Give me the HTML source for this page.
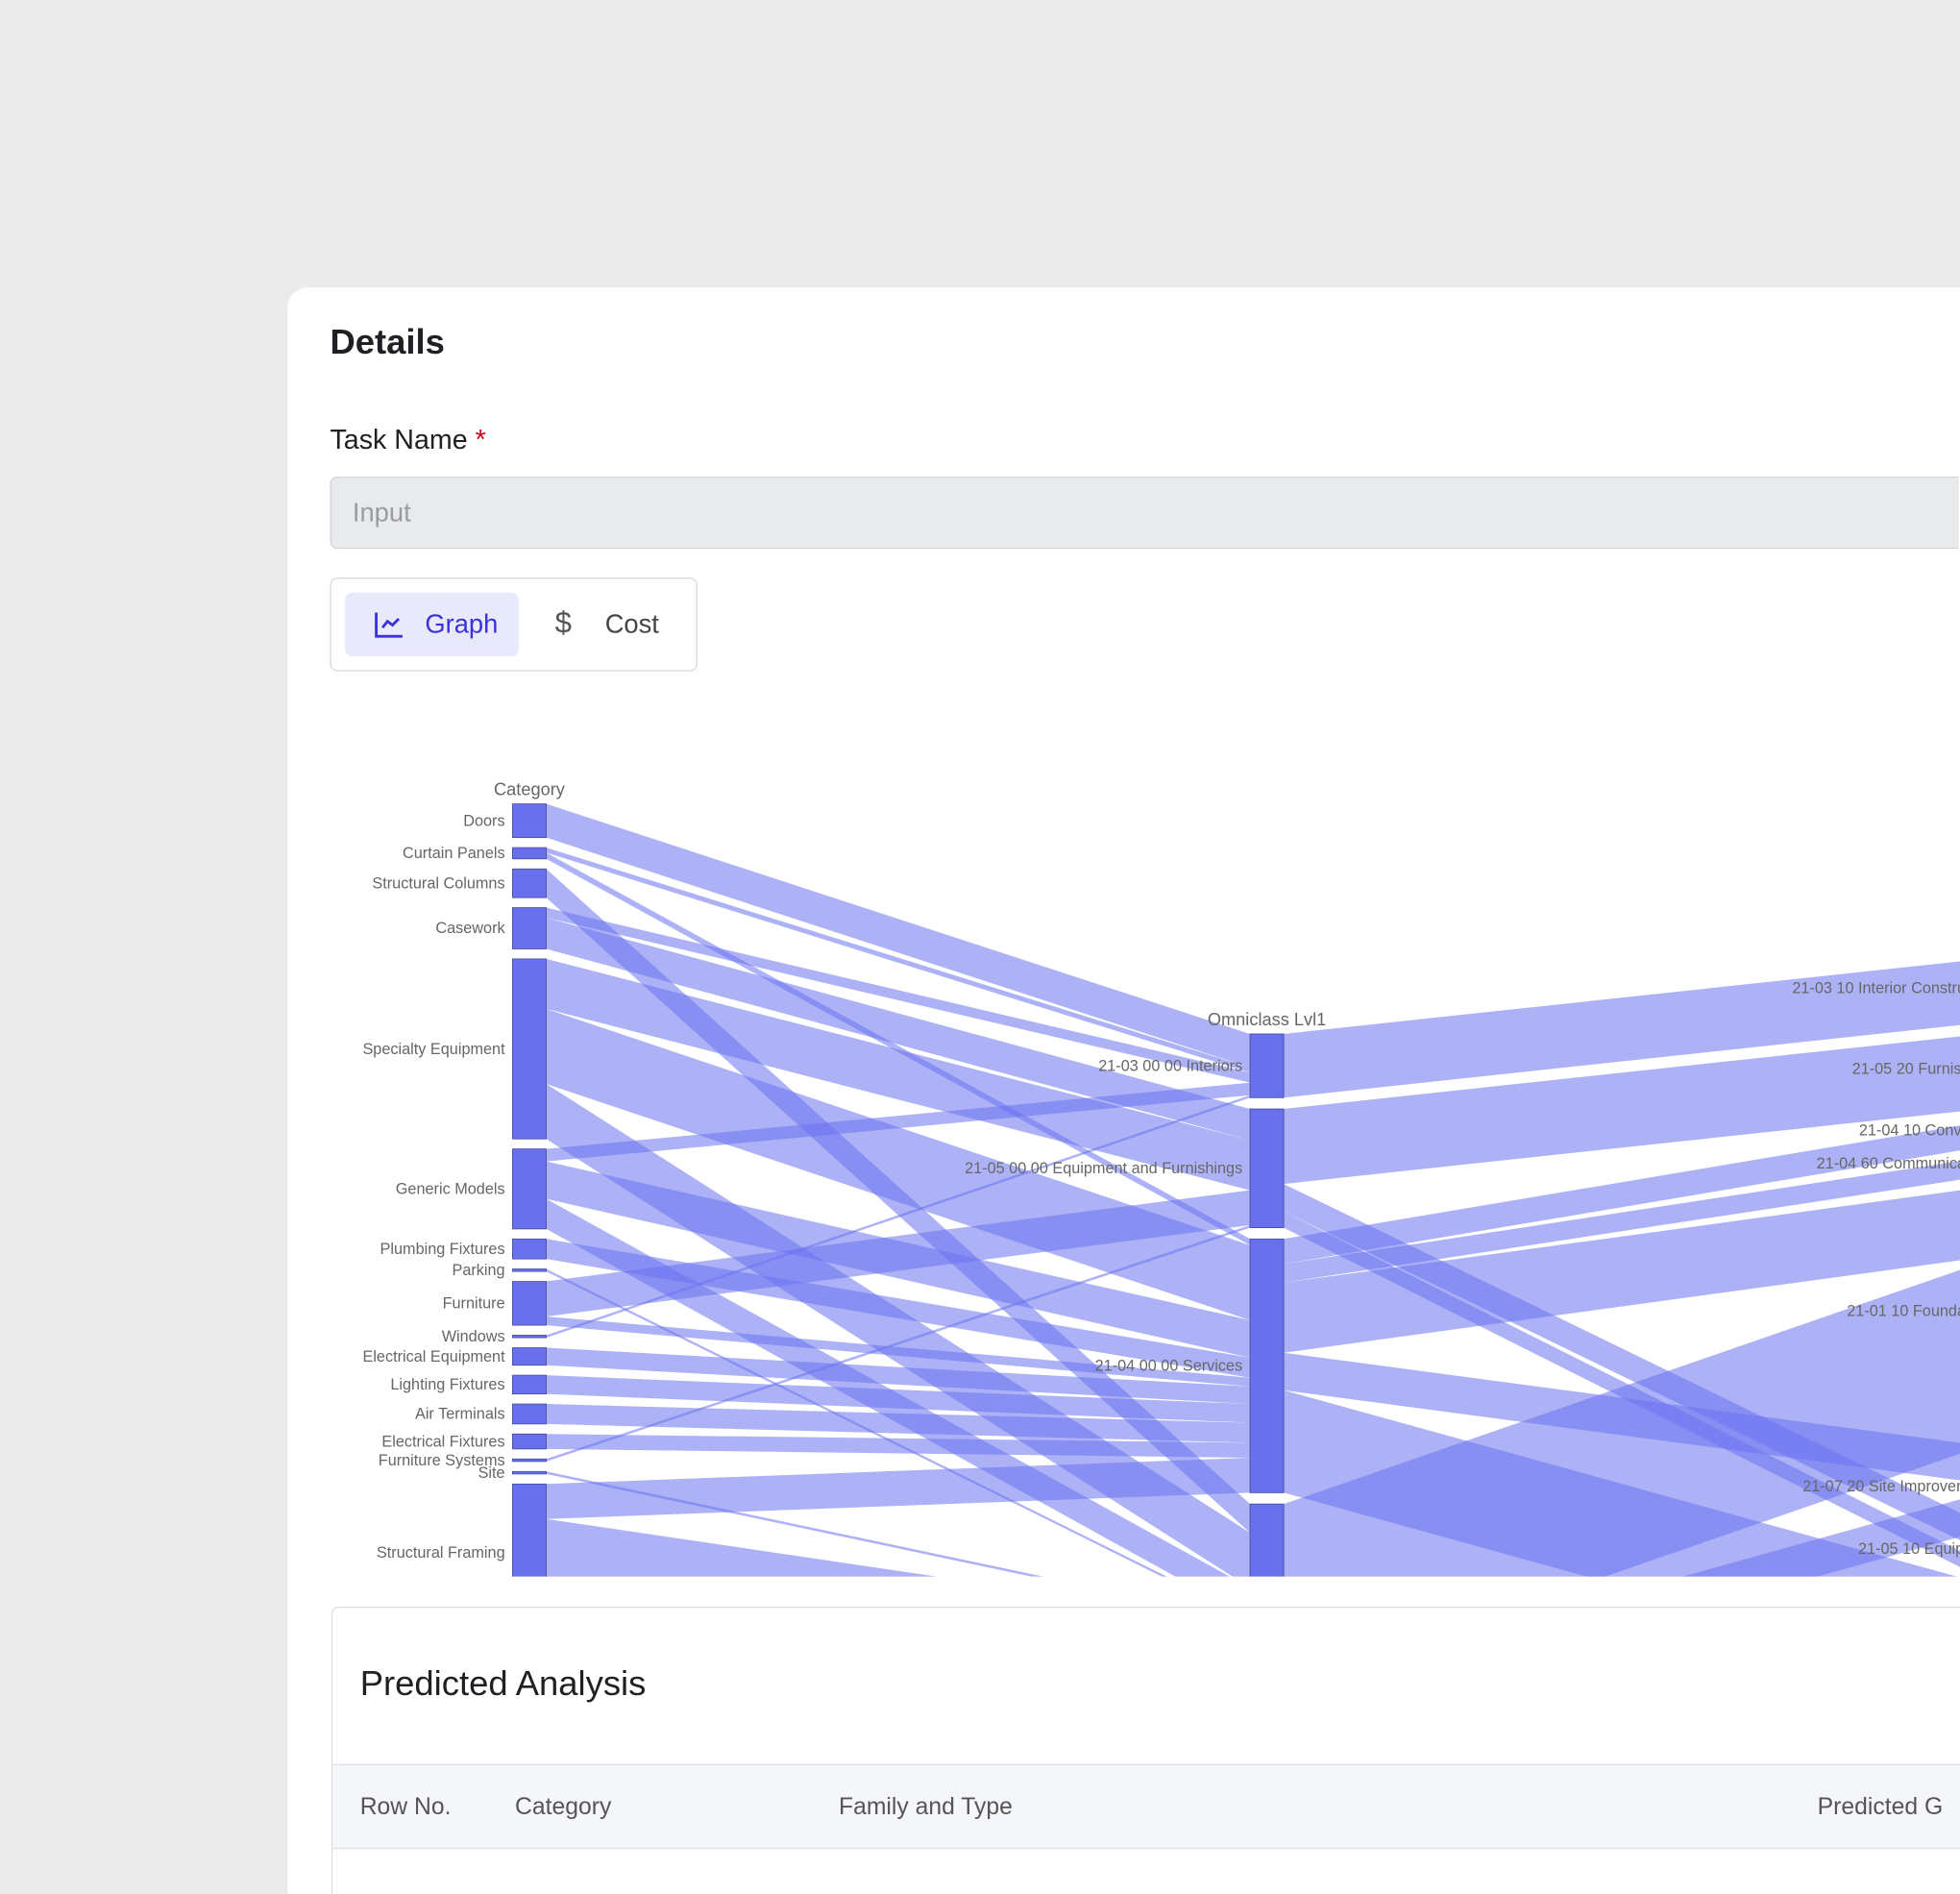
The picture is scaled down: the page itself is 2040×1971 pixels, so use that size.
<!DOCTYPE html>
<html><head><meta charset="utf-8">
<style>
html,body{margin:0;padding:0;background:#ebebeb;overflow:hidden;width:2040px;height:1971px;}
#outer{position:relative;width:2040px;height:1971px;overflow:hidden;}
#wrap{position:absolute;left:0;top:0;width:1568px;height:1515px;overflow:hidden;transform:scale(1.30102);transform-origin:0 0;font-family:"Liberation Sans",sans-serif;}
#card{position:absolute;left:230px;top:230px;width:1338px;height:1285px;background:#fff;border-radius:16px 0 0 0;}
.abs{position:absolute;}
</style></head><body>
<div id="outer">
<div id="wrap">
<div id="card"></div>
<div class="abs" style="left:264px;top:258px;font-size:28px;font-weight:bold;color:#1f1f24;">Details</div>
<div class="abs" style="left:264px;top:339px;font-size:22px;color:#1f1f24;">Task Name <span style="color:#d0021b">*</span></div>
<div class="abs" style="left:264px;top:381px;width:1302px;height:56px;background:#e9eaec;border:1px solid #d2d3d6;border-right:none;border-radius:6px 0 0 6px;">
 <span style="position:absolute;left:17px;top:17px;font-size:21px;color:#9a9ca2;">Input</span></div>
<div class="abs" style="left:264px;top:462px;width:292px;height:73px;border:1px solid #d8d8dc;border-radius:6px;background:#fff;"></div>
<div class="abs" style="left:276px;top:474px;width:139px;height:51px;background:#e8eafc;border-radius:6px;">
 <svg style="position:absolute;left:23px;top:15px" width="24" height="22" viewBox="0 0 24 22"><path d="M2 1V20H23" fill="none" stroke="#3a31d8" stroke-width="2.2"/><path d="M7 13L11 8L15 11L20 6" fill="none" stroke="#3a31d8" stroke-width="2.2"/></svg>
 <span style="position:absolute;left:64px;top:14px;font-size:21px;color:#3a31d8;">Graph</span></div>
<div class="abs" style="left:440px;top:474px;width:100px;height:51px;">
 <span style="position:absolute;left:4px;top:11px;font-size:24px;color:#555;">$</span>
 <span style="position:absolute;left:44px;top:14px;font-size:21px;color:#444;">Cost</span></div>

<svg id="chart" class="abs" style="left:0;top:0" width="1568" height="1262">
 <defs><clipPath id="cp"><rect x="264" y="600" width="1304" height="661"/></clipPath></defs>
 <g id="ribbons" clip-path="url(#cp)"></g>
 <g id="nodes" clip-path="url(#cp)"></g>
 <g id="labels" font-family="Liberation Sans, sans-serif" font-size="12.5" fill="#666" clip-path="url(#cp)"></g>
</svg>

<div class="abs" style="left:265px;top:1285px;width:1302px;height:229px;border:1px solid #dcdcdf;border-right:none;border-bottom:none;border-radius:6px 0 0 0;background:#fff;overflow:hidden;">
 <div style="position:absolute;left:22px;top:45px;font-size:28px;color:#1f1f24;">Predicted Analysis</div>
 <div style="position:absolute;left:0;top:125px;width:1302px;height:66px;background:#f5f6f9;border-top:1px solid #e3e3e6;border-bottom:1px solid #e3e3e6;font-size:19px;color:#555;">
  <span style="position:absolute;left:22px;top:23px">Row No.</span>
  <span style="position:absolute;left:146px;top:23px">Category</span>
  <span style="position:absolute;left:405px;top:23px">Family and Type</span>
  <span style="position:absolute;left:1188px;top:23px;white-space:nowrap">Predicted G</span>
 </div>
</div>
</div>
</div>
<script>
const cats=["Doors","Curtain Panels","Structural Columns","Casework","Specialty Equipment","Generic Models","Plumbing Fixtures","Parking","Furniture","Windows","Electrical Equipment","Lighting Fixtures","Air Terminals","Electrical Fixtures","Furniture Systems","Site","Structural Framing"];
const lvl1=["21-03 00 00 Interiors","21-05 00 00 Equipment and Furnishings","21-04 00 00 Services","21-02 00 00 Shell"];
const lvl2=["21-03 10 Interior Construction","21-05 20 Furnishings","21-04 10 Conveying","21-04 60 Communications","21-01 10 Foundations","21-07 20 Site Improvements","21-05 10 Equipment","21-02 10 Superstructure"];
// flows category -> lvl1 [Interiors, Equip, Services, Shell]
const flows1=[[27,0,0,0],[4,0,5,0],[0,0,0,23],[8,25,0,0],[0,40,60,44],[10,0,30,24],[0,0,16,0],[0,0,0,2],[0,28,7,0],[2,0,0,0],[0,0,14,0],[0,0,15,0],[0,0,16,0],[0,0,12,0],[0,2,0,0],[0,0,0,2],[0,0,28,82]];
// flows lvl1 -> lvl2
const flows2=[[51,0,0,0,0,0,0,0],[0,60,0,0,0,0,22,13],[0,0,20,15,56,30,0,82],[0,0,0,0,147,30,0,0]];
const K=1;
function sumRows(m){return m.map(r=>r.reduce((a,b)=>a+b,0));}
function sumCols(m){return m[0].map((_,j)=>m.reduce((a,r)=>a+r[j],0));}
function layout(vals,start,gap){let y=start;return vals.map(v=>{const n={y0:y,y1:y+v*K};y+=v*K+gap;return n;});}
const N1=layout(sumRows(flows1),643,8),N2=layout(sumCols(flows1),827,9),N3=layout(sumCols(flows2),765,9);
const X=[410,1000,1605],W=27;
const NS="http://www.w3.org/2000/svg";
const rib=document.getElementById('ribbons'),nod=document.getElementById('nodes'),lab=document.getElementById('labels');
function ribbons(M,S,T,xs,xt){
 const so=S.map(n=>n.y0),to=T.map(n=>n.y0);
 M.forEach((row,i)=>row.forEach((v,j)=>{
  if(!v)return;const h=v*K;
  const p=document.createElementNS(NS,'polygon');
  p.setAttribute('points',`${xs},${so[i]} ${xt},${to[j]} ${xt},${to[j]+h} ${xs},${so[i]+h}`);
  p.setAttribute('fill','rgba(105,115,240,0.55)');
  
  
  rib.appendChild(p);so[i]+=h;to[j]+=h;}));
}
ribbons(flows1,N1,N2,X[0]+W,X[1]);
ribbons(flows2,N2,N3,X[1]+W,X[2]);
function nodes(L,x,names){
 L.forEach((n,i)=>{
  const r=document.createElementNS(NS,'rect');
  r.setAttribute('x',x);r.setAttribute('y',n.y0);r.setAttribute('width',W);r.setAttribute('height',Math.max(2,n.y1-n.y0));
  r.setAttribute('fill','#6870ec');r.setAttribute('stroke','#444a9a');r.setAttribute('stroke-width','0.6');
  
  
  nod.appendChild(r);
  const t=document.createElementNS(NS,'text');
  t.setAttribute('x',x-6);t.setAttribute('y',(n.y0+n.y1)/2+4);t.setAttribute('text-anchor','end');
  t.textContent=names[i];
  
  
  lab.appendChild(t);
 });
}
nodes(N1,X[0],cats);nodes(N2,X[1],lvl1);nodes(N3,X[2],lvl2);
[["Category",X[0],N1[0].y0-7],["Omniclass Lvl1",X[1],N2[0].y0-7],["Omniclass Lvl2",X[2],N3[0].y0-10]].forEach(h=>{
 const t=document.createElementNS(NS,'text');
 t.setAttribute('x',h[1]+W/2);t.setAttribute('y',h[2]);t.setAttribute('text-anchor','middle');t.setAttribute('font-size','14');
 t.textContent=h[0];
 
 
 lab.appendChild(t);
});
</script>
</body></html>
